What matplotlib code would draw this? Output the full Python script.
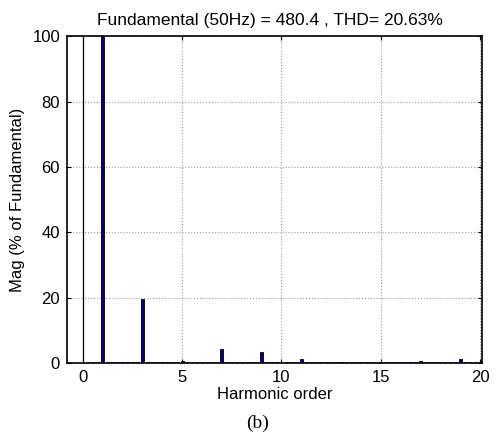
import numpy as np
import matplotlib
matplotlib.use("Agg")
import matplotlib.pyplot as plt

plt.rcParams['font.family'] = ['Liberation Sans', 'DejaVu Sans']

# Main harmonic magnitudes (% of fundamental)
harmonics = [1, 3, 5, 7, 9, 11, 13, 15, 17, 19]
harm_mag = [100, 19.5, 0.7, 4.3, 3.5, 1.2, 0.4, 0.4, 0.7, 1.3]
# Low-level spectral components (interharmonics), step 0.25
inter_order = [i / 4 for i in range(1, 81)]
inter_mag = [0.5] * len(inter_order)

title = "Fundamental (50Hz) = 480.4 , THD= 20.63%"
xticks = [0, 5, 10, 15, 20]
yticks = [0, 20, 40, 60, 80, 100]

fig = plt.figure(figsize=(5.0, 4.36), dpi=100)
ax = fig.add_axes([0.134, 0.167, 0.830, 0.750])

hset = set(harmonics)
io = [x for x in inter_order if x not in hset]
im = [m for x, m in zip(inter_order, inter_mag) if x not in hset]
ax.bar(io, im, width=0.12, color='#00007f', edgecolor='black', linewidth=0.4, zorder=3)
ax.bar(harmonics, harm_mag, width=0.16, color='#00007f', edgecolor='black', linewidth=0.6, zorder=3)

ax.axvline(0, color='black', linewidth=0.9, zorder=2)

ax.set_xlim(-0.8, 20.1)
ax.set_ylim(0, 100)
ax.set_xticks(xticks)
ax.set_yticks(yticks)
ax.grid(True, color='#999999', linestyle=':', linewidth=0.8, zorder=0)
ax.tick_params(direction='in', top=True, right=True, length=3, labelsize=12, pad=5)
for s in ax.spines.values():
    s.set_linewidth(1.2)

ax.set_title(title, fontsize=12.5, pad=8, x=0.49)
ax.set_ylabel("Mag (% of Fundamental)", fontsize=12, labelpad=5)
ax.set_xlabel("Harmonic order", fontsize=12, labelpad=1)
fig.text(0.515, 0.03, "(b)", ha='center', va='center', fontsize=14,
         family=['Liberation Serif', 'DejaVu Serif'])

fig.savefig("out.png", dpi=100)
